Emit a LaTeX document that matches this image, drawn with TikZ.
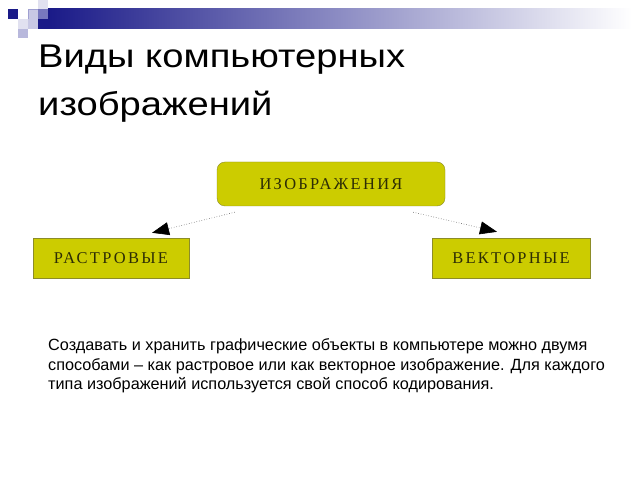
\documentclass[tikz,border=0pt]{standalone}
\usepackage{fontspec}
\usepackage{graphicx}
\setmainfont{Liberation Sans}
\newfontfamily\boxfont{Liberation Serif}[LetterSpace=14]
\usetikzlibrary{arrows.meta}
\definecolor{navy}{RGB}{26,26,136}
\definecolor{midblue}{RGB}{120,120,190}
\definecolor{lightlav}{RGB}{200,200,228}
\definecolor{palelav}{RGB}{225,225,240}
\definecolor{boxfill}{RGB}{204,204,0}
\definecolor{boxline}{RGB}{140,140,40}
\definecolor{boxtext}{RGB}{45,45,5}
\tikzset{
  kind/.style={draw=boxline, fill=boxfill, text=boxtext, inner sep=0pt,
    font=\boxfont\fontsize{16.5}{16.5}\selectfont},
  link/.style={draw=gray!80!black, dotted, line width=0.6bp, -{Triangle[length=17bp,width=13bp,color=black]}}
}
\begin{document}
\begin{tikzpicture}[x=1bp,y=-1bp]
    \useasboundingbox (0,0) rectangle (640,480);
    \fill[white] (0,0) rectangle (640,480);
    \shade[left color=navy, right color=white] (48,9) rectangle (632,29);
    \fill[navy] (8,9) rectangle (18,19);
    \fill[lightlav, draw=midblue!70] (28,9) rectangle (38,19);
    \fill[palelav] (38,0) rectangle (48,9);
    \fill[midblue] (38,9) rectangle (48,19);
    \fill[navy] (38,19) rectangle (48,29);
    \fill[palelav] (18,19) rectangle (28,29);
    \fill[lightlav] (28,19) rectangle (38,29);
    \fill[lightlav!80!midblue] (18,29) rectangle (28,38);
    \node[anchor=north west, inner sep=0pt, align=left, font=\fontsize{33}{48}\selectfont] (title) at (38,45)
        {\scalebox{1.16}[1]{Виды компьютерных}\\\scalebox{1.16}[1]{изображений}};
    \node[kind, rounded corners=8bp, minimum width=228bp, minimum height=44bp] (img) at (331,184) {\raisebox{-1.5bp}{ИЗОБРАЖЕНИЯ}};
    \node[kind, minimum width=156bp, minimum height=40bp] (rast) at (111,258) {РАСТРОВЫЕ};
    \node[kind, minimum width=158bp, minimum height=40bp] (vect) at (511,258) {ВЕКТОРНЫЕ};
    \draw[link] ([xshift=18bp,yshift=-6bp]img.south west) -- ([xshift=41bp,yshift=5bp]rast.north);
    \draw[link] ([xshift=-32bp,yshift=-6bp]img.south east) -- ([xshift=-14bp,yshift=6bp]vect.north);
    \node[anchor=north west, inner sep=0pt, align=left, font=\fontsize{16.3}{19.5}\selectfont] (note) at (48,338.5)
        {Создавать и хранить графические объекты в компьютере можно двумя\\
         способами -- как растровое или как векторное изображение. Для каждого\\
         типа изображений используется свой способ кодирования.};
\end{tikzpicture}
\end{document}
